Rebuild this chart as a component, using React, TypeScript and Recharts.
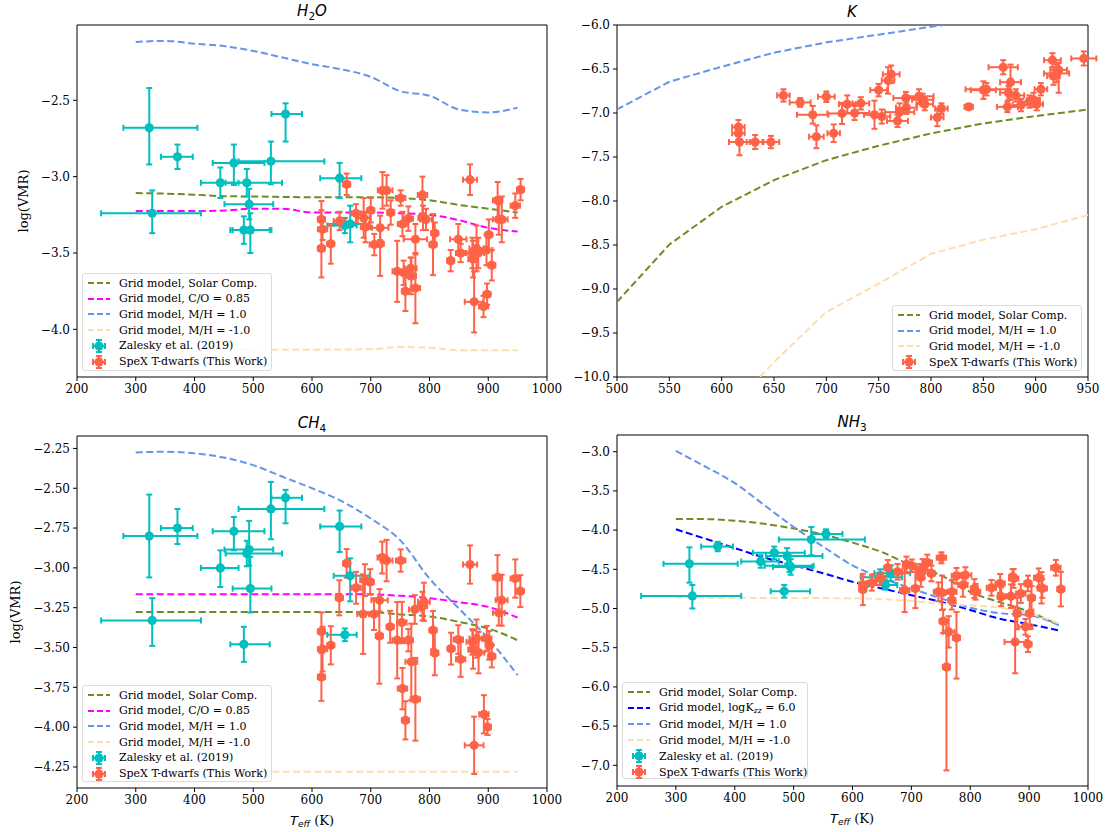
// Abundance vs Teff, four panels (H2O, K, CH4, NH3)

import React from 'react';
import { ComposedChart, Line, Scatter, XAxis, YAxis, ErrorBar, ReferenceArea } from 'recharts';

type Pair = [number, number];
type Obs = [number, number, number | Pair, number | Pair];

const OLIVE = '#6B8E23';
const MAGENTA = '#FF00FF';
const CORNFLOWER = '#6495ED';
const PEACH = '#FFDEAD';
const BLUE = '#0000FF';
const CYAN = '#00BFBF';
const TOMATO = '#FF6347';
const SERIF = '"DejaVu Serif", serif';

// --- Zalesky et al. (2019): same objects in every panel ---
const zalTeff = [323, 371, 555, 467, 530, 444, 489, 493, 484, 495, 328, 647, 656, 665];
const zalTeffErr: Pair[] = [[44, 82], [28, 26], [24, 28], [36, 52], [55, 91], [33, 31], [36, 60], [42, 41], [23, 44], [30, 36], [87, 83], [33, 37], [30, 20], [28, 33]];

const zalH2O = [-2.68, -2.87, -2.59, -2.91, -2.9, -3.04, -3.04, -3.18, -3.35, -3.35, -3.24, -3.01, -3.32, -3.31];
const zalH2OErr: Pair[] = [[0.24, 0.26], [0.08, 0.08], [0.18, 0.07], [0.145, 0.12], [0.15, 0.13], [0.1, 0.1], [0.09, 0.09], [0.1, 0.1], [0.09, 0.09], [0.15, 0.11], [0.13, 0.15], [0.13, 0.1], [0.05, 0.05], [0.12, 0.12]];
const zalCH4 = [-2.8, -2.75, -2.56, -2.77, -2.63, -3.0, -2.91, -2.885, -3.48, -3.13, -3.33, -2.74, -3.42, -3.05];
const zalCH4Err: Pair[] = [[0.26, 0.26], [0.1, 0.12], [0.16, 0.05], [0.12, 0.09], [0.19, 0.17], [0.12, 0.11], [0.08, 0.08], [0.1, 0.18], [0.11, 0.11], [0.15, 0.2], [0.16, 0.14], [0.16, 0.1], [0.04, 0.04], [0.16, 0.11]];
const zalNH3 = [-4.43, -4.21, -4.05, -4.29, -4.12, -4.4, -4.33, -4.455, -4.78, -4.47, -4.84, -4.6, -4.7, -4.55];
const zalNH3Err: Pair[] = [[0.24, 0.21], [0.06, 0.06], [0.06, 0.06], [0.08, 0.08], [0.2, 0.16], [0.08, 0.08], [0.1, 0.1], [0.08, 0.08], [0.08, 0.08], [0.1, 0.1], [0.16, 0.14], [0.1, 0.1], [0.06, 0.06], [0.1, 0.1]];

// --- SpeX T-dwarfs: [Teff, logVMR, yerr, xerr] ---
const spexH2O: Obs[] = [
  [616, -3.28, 0.06, 6], [618, -3.345, 0.07, 8], [616, -3.47, [0.19, 0.31], 6], [632, -3.44, 0.13, 6], [647, -3.29, 0.06, 10],
  [659, -3.05, 0.07, 6], [675, -3.24, 0.06, 8], [688, -3.27, 0.13, 10], [691, -3.33, 0.1, 8], [700, -3.22, 0.08, 6],
  [706, -3.445, 0.07, 8], [716, -3.44, [0.21, 0.1], 6], [716, -3.335, 0.08, 14], [720, -3.09, 0.12, 8], [727, -3.09, 0.1, 10],
  [734, -3.235, 0.08, 6], [745, -3.62, 0.2, 8], [751, -3.14, 0.05, 8], [754, -3.31, 0.08, 8], [756, -3.63, 0.08, 10],
  [759, -3.75, 0.13, 6], [764, -3.275, 0.08, 8], [768, -3.6, 0.07, 10], [769, -3.65, 0.12, 8], [776, -3.41, 0.1, 20],
  [776, -3.73, 0.23, 8], [788, -3.12, 0.12, 8], [789, -3.27, 0.08, 8], [794, -3.28, 0.07, 10], [806, -3.445, 0.2, 6],
  [809, -3.37, 0.07, 6], [836, -3.55, 0.07, 6], [849, -3.41, 0.1, 14], [853, -3.5, 0.06, 8], [869, -3.02, 0.1, 12],
  [873, -3.5, 0.1, 10], [874, -3.54, 0.12, 8], [876, -3.82, 0.2, 16], [880, -3.47, 0.15, 12], [883, -3.5, 0.1, 10],
  [892, -3.85, 0.07, 8], [897, -3.48, 0.1, 10], [898, -3.77, 0.07, 6], [901, -3.38, 0.1, 6], [906, -3.58, 0.1, 6],
  [916, -3.155, 0.12, 8], [918, -3.28, 0.1, 10], [923, -3.28, 0.15, 10], [946, -3.19, 0.08, 8], [955, -3.085, 0.07, 6],
];

const spexK: Obs[] = [
  [616, -7.16, 0.08, 6], [616, -7.23, 0.07, 6], [617, -7.33, 0.15, 10], [632, -7.33, 0.08, 8], [647, -7.33, 0.07, 8],
  [659, -6.8, 0.07, 6], [675, -6.88, 0.05, 10], [687, -7.02, 0.1, 15], [690.5, -7.27, 0.13, 7], [700, -6.815, 0.06, 8],
  [707, -7.23, 0.1, 6], [715, -7.005, 0.12, 14], [720, -6.9, 0.1, 8], [727, -7.0, 0.08, 14], [733, -6.89, 0.07, 8],
  [746, -7.02, 0.16, 10], [750, -6.74, 0.07, 8], [753, -7.04, 0.08, 8], [759, -6.63, 0.15, 6], [762, -6.56, 0.1, 8],
  [768, -7.09, 0.07, 10], [770, -6.99, 0.1, 14], [776, -6.83, 0.07, 12], [776.5, -6.94, 0.07, 10], [788.5, -6.81, 0.08, 14],
  [792, -6.85, 0.07, 10], [794, -6.9, 0.07, 8], [806, -7.05, 0.1, 6], [810, -6.95, 0.06, 6], [836, -6.93, 0.03, 4],
  [850, -6.74, 0.1, 12], [853, -6.73, 0.07, 20], [869, -6.48, 0.08, 14], [873, -6.93, 0.06, 10], [874, -6.77, 0.08, 8],
  [876, -6.65, 0.2, 10], [881, -6.8, 0.07, 8], [886, -6.91, 0.07, 8], [894, -6.87, 0.07, 10], [898, -6.85, 0.08, 6],
  [901, -6.9, 0.07, 6], [905, -6.73, 0.07, 6], [916, -6.4, 0.08, 8], [917, -6.58, 0.1, 6], [920, -6.55, 0.1, 12],
  [922, -6.51, [0.26, 0.08], 8], [946, -6.38, 0.08, 12],
];

const spexCH4: Obs[] = [
  [616, -3.40, 0.12, 6], [618, -3.51, 0.14, 8], [616, -3.685, 0.15, 6], [632, -3.486, 0.12, 6], [646.5, -3.188, 0.11, 6],
  [659, -2.972, 0.09, 6], [675, -3.125, 0.1, 8], [687, -3.29, 0.25, 10], [690, -3.077, 0.1, 8], [699, -3.088, 0.08, 6],
  [705.5, -3.29, 0.1, 8], [715, -3.203, 0.07, 14], [714.6, -3.427, [0.3, 0.23], 6], [719.5, -2.935, 0.1, 8], [727, -2.954, 0.13, 10],
  [733, -3.37, 0.1, 6], [745, -3.454, 0.24, 8], [751, -2.954, 0.07, 8], [753, -3.343, 0.13, 8], [754, -3.758, 0.13, 8],
  [759, -3.957, 0.12, 6], [764, -3.454, 0.07, 8], [769, -3.59, 0.24, 10], [776, -3.825, 0.26, 8], [775, -3.261, 0.09, 10],
  [788, -3.24, 0.09, 8], [790.5, -3.213, 0.12, 10], [806, -3.391, 0.12, 6], [809, -3.534, 0.14, 6], [836.7, -3.507, 0.1, 6],
  [849, -3.45, 0.09, 8], [853, -3.574, 0.11, 8], [869, -2.979, 0.12, 12], [873, -3.465, 0.08, 10], [874, -3.513, 0.12, 8],
  [876, -4.114, 0.18, 16], [880, -3.444, 0.12, 12], [883.5, -3.532, 0.13, 10], [892.6, -3.919, 0.12, 8], [897.5, -3.444, 0.08, 8],
  [898.7, -3.999, 0.05, 6], [901.7, -3.486, 0.09, 6], [906, -3.555, 0.07, 6], [915.7, -3.06, 0.14, 8], [918, -3.282, 0.08, 10],
  [922.9, -3.203, 0.16, 10], [946, -3.067, 0.12, 8], [954.6, -3.146, 0.1, 6],
];

const spexNH3: Obs[] = [
  [617.6, -4.694, 0.1, 6], [617.6, -4.757, 0.2, 6], [632.8, -4.672, 0.1, 8], [647.3, -4.617, 0.08, 8], [660, -4.481, 0.1, 6],
  [676.5, -4.532, 0.1, 8], [688.6, -4.766, 0.28, 8], [691.7, -4.438, 0.1, 6], [700.8, -4.455, 0.08, 8], [706.8, -4.745, 0.25, 6],
  [716, -4.532, 0.1, 8], [716, -4.604, 0.12, 6], [719, -4.49, 0.12, 8], [727, -4.413, 0.1, 8], [734, -4.553, 0.1, 6],
  [746, -4.787, 0.12, 8], [751, -4.353, 0.07, 8], [752, -4.8, 0.22, 6], [754, -5.162, 0.15, 6], [759.6, -5.745, [1.32, 0.6], 6],
  [763.3, -5.298, 0.2, 10], [768.7, -4.787, 0.15, 8], [768.7, -4.894, 0.12, 6], [776.6, -5.374, [0.52, 0.33], 6], [776.6, -4.583, 0.1, 8],
  [787.5, -4.7, 0.15, 8], [791.8, -4.574, 0.1, 10], [807, -4.745, 0.12, 6], [809, -4.787, 0.1, 8], [836, -4.736, 0.1, 8],
  [850.7, -4.68, 0.12, 8], [852.5, -4.85, 0.12, 6], [869, -4.843, 0.15, 8], [872, -4.596, 0.1, 6], [873.7, -4.617, 0.12, 8],
  [876.2, -5.426, [0.4, 0.45], 18], [879.8, -5.064, 0.2, 6], [885.9, -4.809, 0.12, 8], [893.8, -5.234, 0.1, 12], [898, -4.68, 0.1, 6],
  [898, -5.455, 0.1, 6], [901, -5.064, 0.2, 6], [904, -4.864, 0.15, 6], [916.2, -4.609, 0.12, 8], [921, -4.736, 0.2, 6],
  [922.3, -4.745, 0.12, 8], [945.4, -4.481, 0.1, 8], [953.9, -4.753, 0.22, 6],
];

// --- grid models: [Teff, logVMR] ---
const h2oSolar: Pair[] = [[300, -3.107], [400, -3.118], [450, -3.128], [500, -3.13], [600, -3.135], [700, -3.135], [750, -3.14], [800, -3.155], [850, -3.185], [900, -3.21], [950, -3.235]];
const h2oCO: Pair[] = [[300, -3.225], [400, -3.225], [450, -3.222], [500, -3.21], [550, -3.21], [600, -3.235], [700, -3.235], [750, -3.24], [800, -3.25], [850, -3.285], [900, -3.335], [950, -3.36]];
const h2oRich: Pair[] = [[300, -2.118], [350, -2.111], [400, -2.129], [450, -2.145], [500, -2.177], [550, -2.22], [600, -2.264], [650, -2.297], [700, -2.347], [750, -2.44], [800, -2.47], [850, -2.56], [900, -2.58], [950, -2.548]];
const h2oPoor: Pair[] = [[300, -4.18], [350, -4.14], [400, -4.116], [500, -4.133], [600, -4.133], [700, -4.13], [750, -4.116], [800, -4.12], [850, -4.137], [900, -4.137], [950, -4.137]];

const kSolar: Pair[] = [[500, -9.147], [550, -8.495], [600, -8.066], [650, -7.763], [700, -7.536], [750, -7.372], [800, -7.232], [850, -7.118], [900, -7.035], [950, -6.96]];
const kRich: Pair[] = [[500, -6.96], [550, -6.645], [600, -6.474], [650, -6.315], [700, -6.197], [750, -6.11], [800, -6.02], [850, -5.94], [900, -5.87], [950, -5.8]];
const kPoor: Pair[] = [[500, -12.2], [550, -11.3], [600, -10.45], [650, -9.83], [700, -9.26], [750, -8.94], [800, -8.6], [850, -8.44], [900, -8.32], [950, -8.16]];

const ch4Solar: Pair[] = [[300, -3.277], [500, -3.277], [700, -3.278], [750, -3.292], [800, -3.305], [850, -3.339], [900, -3.38], [950, -3.454]];
const ch4CO: Pair[] = [[300, -3.165], [500, -3.165], [700, -3.166], [750, -3.175], [800, -3.19], [850, -3.215], [900, -3.245], [950, -3.312]];
const ch4Rich: Pair[] = [[300, -2.275], [350, -2.271], [400, -2.281], [450, -2.307], [500, -2.355], [550, -2.428], [600, -2.5], [650, -2.58], [700, -2.69], [750, -2.826], [800, -3.067], [850, -3.255], [900, -3.444], [950, -3.674]];
const ch4Poor: Pair[] = [[300, -4.28], [500, -4.28], [700, -4.28], [950, -4.28]];

const nh3Solar: Pair[] = [[300, -3.86], [350, -3.86], [400, -3.88], [450, -3.92], [500, -3.98], [550, -4.055], [600, -4.16], [650, -4.28], [700, -4.45], [750, -4.575], [800, -4.79], [850, -4.92], [900, -5.04], [950, -5.21]];
const nh3Kzz: Pair[] = [[300, -3.99], [400, -4.23], [450, -4.35], [500, -4.45], [550, -4.55], [600, -4.66], [650, -4.745], [700, -4.83], [750, -4.915], [800, -5.02], [850, -5.13], [900, -5.2], [950, -5.28]];
const nh3Rich: Pair[] = [[300, -2.99], [350, -3.19], [400, -3.4], [450, -3.68], [500, -3.96], [550, -4.21], [600, -4.45], [650, -4.61], [700, -4.745], [750, -4.87], [800, -4.99], [850, -5.06], [900, -5.085], [950, -5.21]];
const nh3Poor: Pair[] = [[300, -4.86], [450, -4.865], [600, -4.87], [650, -4.88], [700, -4.905], [750, -4.94], [800, -4.96], [850, -4.99], [900, -5.06], [950, -5.19]];

const wideTicks = [200, 300, 400, 500, 600, 700, 800, 900, 1000];
const kTicks = [500, 550, 600, 650, 700, 750, 800, 850, 900, 950];
const h2oTicks = [-4.0, -3.5, -3.0, -2.5];
const kYTicks = [-10, -9.5, -9, -8.5, -8, -7.5, -7, -6.5, -6];
const ch4Ticks = [-4.25, -4.0, -3.75, -3.5, -3.25, -3.0, -2.75, -2.5, -2.25];
const nh3Ticks = [-7, -6.5, -6, -5.5, -5, -4.5, -4, -3.5, -3];

const toLine = (arr: Pair[]) => arr.map(([x, y]) => ({ x, y }));
const toObs = (arr: Obs[]) => arr.map(([x, y, ey, ex]) => ({ x, y, ey, ex }));
const zalesky = (vals: number[], errs: Pair[]) =>
  vals.map((y, i) => ({ x: zalTeff[i], y, ey: errs[i], ex: zalTeffErr[i] }));

const DASH = '7 3.5';

interface ModelLine { data: Pair[]; color: string; }

interface PanelProps {
  left: number; top: number; w: number; h: number;
  xDomain: Pair; xTicks: number[]; yDomain: Pair; yTicks: number[]; digits: number;
  lines: ModelLine[]; zal?: any[]; spex: any[]; curve: 'linear' | 'monotone';
}

const fmt = (d: number) => (v: number) => v.toFixed(d).replace('-', '\u2212');

const dotShape = (color: string) => (p: any) => <circle cx={p.cx} cy={p.cy} r={4.6} fill={color} />;

function Panel({ left, top, w, h, xDomain, xTicks, yDomain, yTicks, digits, lines, zal, spex, curve }: PanelProps) {
  const tick = { fontSize: 12, fill: '#000', fontFamily: SERIF };
  return (
    <div style={{ position: 'absolute', left: left - 77, top: top - 25 }}>
      <ComposedChart width={w + 102} height={h + 60} margin={{ top: 25, right: 25, bottom: 5, left: 0 }}>
        <XAxis
          type="number" dataKey="x" domain={xDomain} ticks={xTicks} allowDataOverflow interval={0}
          axisLine={false} tickLine={{ stroke: '#000' }} tickSize={4} tickMargin={3} tick={tick}
          height={30} tickFormatter={(v: number) => String(v)}
        />
        <YAxis
          type="number" dataKey="y" domain={yDomain} ticks={yTicks} allowDataOverflow interval={0}
          axisLine={false} tickLine={{ stroke: '#000' }} tickSize={4} tickMargin={3} tick={tick}
          width={77} tickFormatter={fmt(digits)}
        />
        {lines.map((l, i) => (
          <Line
            key={i} data={toLine(l.data)} dataKey="y" type={curve} stroke={l.color} strokeWidth={2}
            strokeDasharray={DASH} dot={false} activeDot={false} isAnimationActive={false}
          />
        ))}
        {zal && (
          <Scatter data={zal} dataKey="y" fill={CYAN} shape={dotShape(CYAN)} isAnimationActive={false}>
            <ErrorBar dataKey="ey" direction="y" width={3} stroke={CYAN} strokeWidth={2} />
            <ErrorBar dataKey="ex" direction="x" width={3} stroke={CYAN} strokeWidth={2} />
          </Scatter>
        )}
        <Scatter data={spex} dataKey="y" fill={TOMATO} shape={dotShape(TOMATO)} isAnimationActive={false}>
          <ErrorBar dataKey="ey" direction="y" width={3} stroke={TOMATO} strokeWidth={2} />
          <ErrorBar dataKey="ex" direction="x" width={3} stroke={TOMATO} strokeWidth={2} />
        </Scatter>
        <ReferenceArea
          x1={xDomain[0]} x2={xDomain[1]} y1={yDomain[0]} y2={yDomain[1]}
          fill="none" fillOpacity={0} stroke="#000" strokeWidth={1} ifOverflow="visible"
        />
      </ComposedChart>
    </div>
  );
}

interface LegendItem { kind: 'line' | 'marker'; color: string; label: React.ReactNode; }

function LegendBox({ left, top, width, height, step, items }: { left: number; top: number; width: number; height: number; step: number; items: LegendItem[] }) {
  return (
    <div style={{
      position: 'absolute', left, top, width, height, boxSizing: 'border-box',
      border: '1px solid #dcdcdc', borderRadius: 3, background: 'rgba(255,255,255,0.8)',
    }}>
      {items.map((it, i) => (
        <div key={i} style={{ position: 'absolute', left: 0, top: 1 + i * step, height: 16, display: 'flex', alignItems: 'center', whiteSpace: 'nowrap' }}>
          <svg width={36} height={16} style={{ flex: 'none' }}>
            {it.kind === 'line' ? (
              <line x1={5} y1={8} x2={27} y2={8} stroke={it.color} strokeWidth={2} strokeDasharray="6 3" />
            ) : (
              <g stroke={it.color} strokeWidth={2}>
                <line x1={10} y1={8} x2={22} y2={8} />
                <line x1={16} y1={2} x2={16} y2={14} />
                <line x1={10} y1={5} x2={10} y2={11} />
                <line x1={22} y1={5} x2={22} y2={11} />
                <line x1={13} y1={2} x2={19} y2={2} />
                <line x1={13} y1={14} x2={19} y2={14} />
                <circle cx={16} cy={8} r={4.6} fill={it.color} stroke="none" />
              </g>
            )}
          </svg>
          <span style={{ fontFamily: SERIF, fontSize: 11, color: '#000' }}>{it.label}</span>
        </div>
      ))}
    </div>
  );
}

const Title = ({ x, y, children }: { x: number; y: number; children: React.ReactNode }) => (
  <div style={{
    position: 'absolute', left: x, top: y, transform: 'translate(-50%, -50%)',
    fontFamily: '"DejaVu Sans", sans-serif', fontStyle: 'italic', fontSize: 15, whiteSpace: 'nowrap',
  }}>{children}</div>
);

const Sub = ({ children, italic }: { children: React.ReactNode; italic?: boolean }) => (
  <sub style={{ fontSize: '0.7em', fontStyle: italic ? 'italic' : 'normal', verticalAlign: '-0.3em' }}>{children}</sub>
);

const XLabel = ({ x, y }: { x: number; y: number }) => (
  <div style={{ position: 'absolute', left: x, top: y, transform: 'translate(-50%, -50%)', fontFamily: SERIF, fontSize: 13, whiteSpace: 'nowrap' }}>
    <span style={{ fontFamily: '"DejaVu Sans", sans-serif', fontStyle: 'italic' }}>T<Sub italic>eff</Sub></span> (K)
  </div>
);

const YLabel = ({ x, y }: { x: number; y: number }) => (
  <div style={{ position: 'absolute', left: x, top: y, transform: 'translate(-50%, -50%) rotate(-90deg)', fontFamily: SERIF, fontSize: 13, whiteSpace: 'nowrap' }}>
    log(VMR)
  </div>
);

const solarItem: LegendItem = { kind: 'line', color: OLIVE, label: 'Grid model, Solar Comp.' };
const coItem: LegendItem = { kind: 'line', color: MAGENTA, label: 'Grid model, C/O = 0.85' };
const richItem: LegendItem = { kind: 'line', color: CORNFLOWER, label: 'Grid model, M/H = 1.0' };
const poorItem: LegendItem = { kind: 'line', color: PEACH, label: 'Grid model, M/H = -1.0' };
const zalItem: LegendItem = { kind: 'marker', color: CYAN, label: 'Zalesky et al. (2019)' };
const spexItem: LegendItem = { kind: 'marker', color: TOMATO, label: 'SpeX T-dwarfs (This Work)' };
const kzzItem: LegendItem = {
  kind: 'line', color: BLUE,
  label: <>Grid model, logK<Sub italic>zz</Sub> = 6.0</>,
};

export default function App() {
  return (
    <div style={{ position: 'absolute', left: 0, top: 0, width: 1109, height: 832, background: '#fff', overflow: 'hidden' }}>
      <Panel
        left={77} top={25} w={470} h={352} xDomain={[200, 1000]} xTicks={wideTicks}
        yDomain={[-4.312, -2.007]} yTicks={h2oTicks} digits={1} curve="monotone"
        lines={[{ data: h2oSolar, color: OLIVE }, { data: h2oCO, color: MAGENTA }, { data: h2oRich, color: CORNFLOWER }, { data: h2oPoor, color: PEACH }]}
        zal={zalesky(zalH2O, zalH2OErr)} spex={toObs(spexH2O)}
      />
      <Panel
        left={617} top={25} w={471} h={352} xDomain={[500, 950]} xTicks={kTicks}
        yDomain={[-10, -6]} yTicks={kYTicks} digits={1} curve="linear"
        lines={[{ data: kSolar, color: OLIVE }, { data: kRich, color: CORNFLOWER }, { data: kPoor, color: PEACH }]}
        spex={toObs(spexK)}
      />
      <Panel
        left={77} top={436} w={470} h={352} xDomain={[200, 1000]} xTicks={wideTicks}
        yDomain={[-4.382, -2.172]} yTicks={ch4Ticks} digits={2} curve="monotone"
        lines={[{ data: ch4Solar, color: OLIVE }, { data: ch4CO, color: MAGENTA }, { data: ch4Rich, color: CORNFLOWER }, { data: ch4Poor, color: PEACH }]}
        zal={zalesky(zalCH4, zalCH4Err)} spex={toObs(spexCH4)}
      />
      <Panel
        left={617} top={435} w={471} h={351} xDomain={[200, 1000]} xTicks={wideTicks}
        yDomain={[-7.264, -2.787]} yTicks={nh3Ticks} digits={1} curve="monotone"
        lines={[{ data: nh3Solar, color: OLIVE }, { data: nh3Kzz, color: BLUE }, { data: nh3Rich, color: CORNFLOWER }, { data: nh3Poor, color: PEACH }]}
        zal={zalesky(zalNH3, zalNH3Err)} spex={toObs(spexNH3)}
      />

      <Title x={312} y={12}>H<Sub>2</Sub>O</Title>
      <Title x={852} y={12}>K</Title>
      <Title x={312} y={424}>CH<Sub>4</Sub></Title>
      <Title x={852} y={423}>NH<Sub>3</Sub></Title>

      <YLabel x={23} y={201} />
      <YLabel x={15} y={612} />
      <XLabel x={312} y={821} />
      <XLabel x={852} y={819} />

      <LegendBox left={82} top={273} width={190} height={98} step={15.7} items={[solarItem, coItem, richItem, poorItem, zalItem, spexItem]} />
      <LegendBox left={892} top={305} width={190} height={66} step={15.7} items={[solarItem, richItem, poorItem, spexItem]} />
      <LegendBox left={82} top={685} width={190} height={97} step={15.7} items={[solarItem, coItem, richItem, poorItem, zalItem, spexItem]} />
      <LegendBox left={622} top={682} width={186} height={97} step={16} items={[solarItem, kzzItem, richItem, poorItem, zalItem, spexItem]} />
    </div>
  );
}
